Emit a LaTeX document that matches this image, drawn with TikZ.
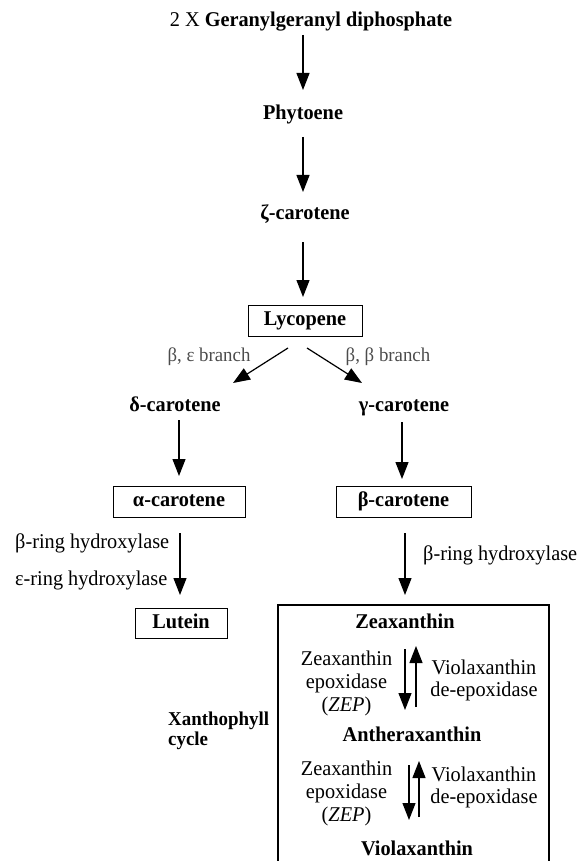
\documentclass[tikz,border=0pt]{standalone}
\usepackage{fontspec}
\setmainfont{Liberation Serif}[FakeStretch=0.966]
\usetikzlibrary{arrows.meta,calc}
\begin{document}
\begin{tikzpicture}[x=1pt,y=-1pt,
  every node/.style={inner sep=0pt, font=\fontsize{21}{23}\selectfont},
  bold/.style={font=\fontsize{21}{23}\selectfont\bfseries, text height=14.5pt, text depth=4.2pt},
  boxed/.style={bold, draw, line width=1pt, minimum height=31pt},
  arr/.style={line width=1.2pt, -{Triangle[width=13pt,length=17pt]}},
  enzl/.style={align=center, font=\fontsize{21}{23}\selectfont},
  enzr/.style={align=center, font=\fontsize{21}{22}\selectfont},
  branch/.style={font=\fontsize{19.5}{22}\selectfont, text=black!70},
  cyclelabel/.style={align=left, anchor=west, font=\fontsize{19.6}{20}\selectfont\bfseries}]
\useasboundingbox (0,0) rectangle (580,861);

% nodes
\node[bold] (ggpp) at (311,21) {{\mdseries 2 X} Geranylgeranyl diphosphate};
\node[bold] (phy) at (303,114) {Phytoene};
\node[bold] (zeta) at (305,214) {ζ-carotene};
\node[boxed, minimum width=114pt] (lyc) at (305,320.5) {Lycopene};
\node[branch] (be) at (209,357) {β, ε branch};
\node[branch] (bb) at (388,357) {β, β branch};
\node[bold] (delta) at (175,406) {δ-carotene};
\node[bold] (gamma) at (404,406) {γ-carotene};
\node[boxed, minimum width=132pt] (alpha) at (179,501.5) {α-carotene};
\node[boxed, minimum width=135pt] (beta) at (403.5,501.5) {β-carotene};
\node[anchor=west] (bh1) at (15,543) {β-ring hydroxylase};
\node[anchor=west] (eh) at (15,580) {ε-ring hydroxylase};
\node[anchor=west] (bh2) at (423,555) {β-ring hydroxylase};
\node[boxed, minimum width=92pt, minimum height=30pt] (lut) at (181,623) {Lutein};
\node[bold] (zea) at (405,623) {Zeaxanthin};
\node[bold] (anth) at (412,736) {Antheraxanthin};
\node[bold] (viol) at (417,850) {Violaxanthin};
\node[cyclelabel] (xc) at (168,730.5) {Xanthophyll\\cycle};
\node[enzl] (e1l) at (346.5,683) {Zeaxanthin\\epoxidase\\(\textit{ZEP})};
\node[enzr] (e1r) at (484,680) {Violaxanthin\\de-epoxidase};
\node[enzl] (e2l) at (346.5,793) {Zeaxanthin\\epoxidase\\(\textit{ZEP})};
\node[enzr] (e2r) at (484,787) {Violaxanthin\\de-epoxidase};

% xanthophyll cycle frame (open at the bottom edge of the picture)
\draw[line width=1.5pt] (278,875) -- (278,605) -- (549,605) -- (549,875);

% connectors
\draw[arr] ($(ggpp)+(-8,14)$) -- ($(phy)+(0,-24)$);
\draw[arr] ($(phy)+(0,23)$) -- ($(zeta)+(-2,-22)$);
\draw[arr] ($(zeta)+(-2,28)$) -- ($(lyc)+(-2,-23.5)$);
\draw[arr] ($(lyc)+(-17,27.5)$) -- ($(delta)+(58,-23)$);
\draw[arr] ($(lyc)+(2,27.5)$) -- ($(gamma)+(-42,-23)$);
\draw[arr] ($(delta)+(4,14)$) -- ($(alpha)+(0,-25.5)$);
\draw[arr] ($(gamma)+(-2,16)$) -- ($(beta)+(-1.5,-22.5)$);
\draw[arr] ($(alpha)+(1,31.5)$) -- ($(lut)+(-1,-28)$);
\draw[arr] ($(beta)+(1.5,31.5)$) -- ($(zea)+(0,-28)$);
\draw[arr] ($(zea)+(0,26)$) -- ($(anth)+(-7,-26)$);
\draw[arr] ($(anth)+(4,-29)$) -- ($(zea)+(11,23)$);
\draw[arr] ($(anth)+(-3,29)$) -- ($(viol)+(-8,-30)$);
\draw[arr] ($(viol)+(2,-33)$) -- ($(anth)+(7,25)$);
\end{tikzpicture}
\end{document}
